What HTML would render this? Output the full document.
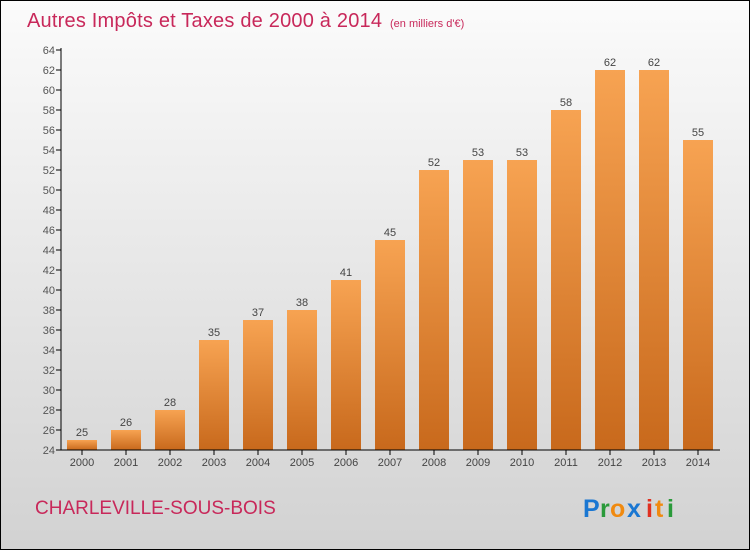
<!DOCTYPE html>
<html><head><meta charset="utf-8"><style>
body{margin:0;}
svg{display:block;font-family:"Liberation Sans",sans-serif;}
</style></head><body>
<svg id="c" width="750" height="550" xmlns="http://www.w3.org/2000/svg">
<defs>
<linearGradient id="bg" x1="0" y1="0" x2="0" y2="1"><stop offset="0" stop-color="#fbfbfb"/><stop offset="1" stop-color="#d2d2d2"/></linearGradient>
<linearGradient id="bar" x1="0" y1="0" x2="0" y2="1"><stop offset="0" stop-color="#f7a352"/><stop offset="1" stop-color="#c8691c"/></linearGradient>
</defs>
<rect x="0.5" y="0.5" width="749" height="549" fill="url(#bg)" stroke="#000"/>
<text x="27" y="27" font-size="20" fill="#c8285a" textLength="355">Autres Impôts et Taxes de 2000 à 2014</text>
<text x="390" y="27" font-size="11" fill="#c8285a">(en milliers d'€)</text>
<g id="plot"></g>
<text x="35" y="514" font-size="19" fill="#c8285a">CHARLEVILLE-SOUS-BOIS</text>
<g font-size="25" font-weight="bold">
<text x="583" y="517" fill="#1a77d2">P</text><text x="600" y="517" fill="#2a9a3a">r</text><text x="610" y="517" fill="#f08a10">o</text><text x="627" y="517" fill="#1a77d2">x</text><text x="646" y="517" fill="#e03020">i</text><text x="655" y="517" fill="#f08a10">t</text><text x="667" y="517" fill="#2a9a3a">i</text>
</g>
</svg>
<script>
const years=["2000","2001","2002","2003","2004","2005","2006","2007","2008","2009","2010","2011","2012","2013","2014"];
const values=[25,26,28,35,37,38,41,45,52,53,53,58,62,62,55];
const yTicks=[24,26,28,30,32,34,36,38,40,42,44,46,48,50,52,54,56,58,60,62,64];
const NS="http://www.w3.org/2000/svg";
const g=document.getElementById('plot');
const y=v=>450-(v-24)*10;
const x=i=>82+i*44;
function el(t,a,txt){const e=document.createElementNS(NS,t);for(const k in a)e.setAttribute(k,a[k]);if(txt!==undefined)e.textContent=txt;g.appendChild(e);return e;}
yTicks.forEach(t=>{
 const l=el('line',{x1:56,x2:61,y1:y(t),y2:y(t),stroke:'#000'});
 
 
 const tx=el('text',{x:55,y:y(t)+4,'text-anchor':'end','font-size':11,fill:'#555'},t);
 
 
});
years.forEach((yr,i)=>{
 const r=el('rect',{x:x(i)-15,y:y(values[i]),width:30,height:450-y(values[i]),fill:'url(#bar)'});
 
 
 const v=el('text',{x:x(i),y:y(values[i])-4,'text-anchor':'middle','font-size':11,fill:'#444'},values[i]);
 
 
 const tk=el('line',{x1:x(i),x2:x(i),y1:450,y2:455,stroke:'#000'});
 
 
 const t=el('text',{x:x(i),y:466,'text-anchor':'middle','font-size':11,fill:'#444'},yr);
 
 
});
const ya=el('line',{x1:61,x2:61,y1:48,y2:450,stroke:'#000'});


const xa=el('line',{x1:61,x2:720,y1:450,y2:450,stroke:'#000'});


</script>
</body></html>
